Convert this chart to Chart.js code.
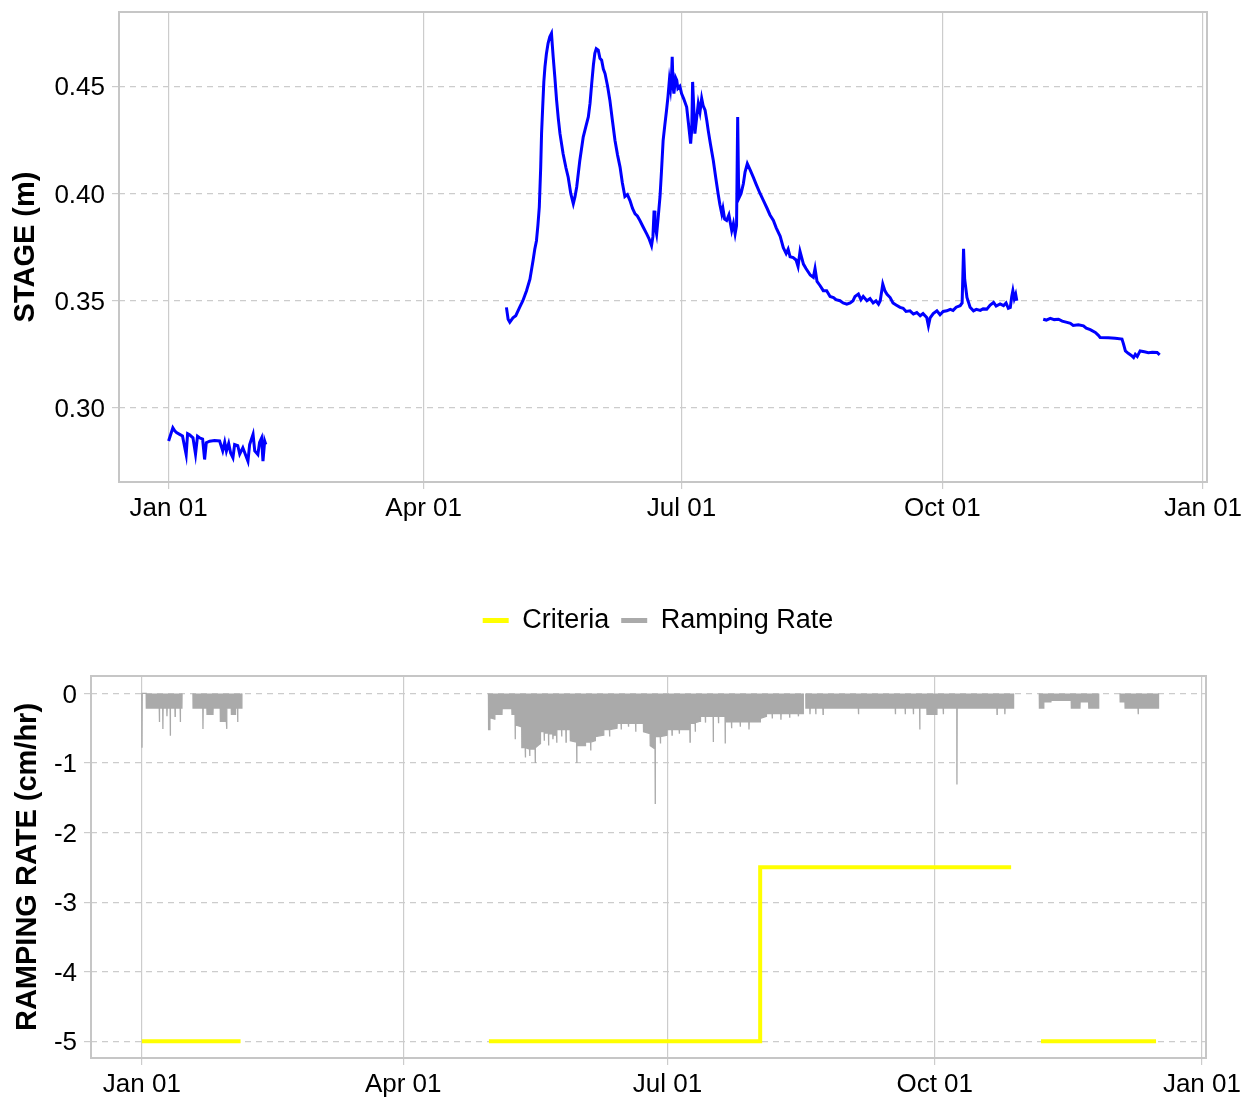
<!DOCTYPE html>
<html>
<head>
<meta charset="utf-8">
<title>Stage and ramping rate</title>
<script src="https://cdn.jsdelivr.net/npm/chart.js"></script>
<style>
  html, body { margin: 0; padding: 0; background: #fff; overflow: hidden; }
  canvas { position: absolute; left: 0; }
  #stageChart { top: 0; }
  #rampChart { top: 588px; }
</style>
</head>
<body>
<canvas id="stageChart" width="1251" height="545"></canvas>
<canvas id="rampChart" width="1251" height="510"></canvas>
<script>
// x axis = day of year (0 = Jan 01)
var tickDays = [0, 90, 181, 273, 365];
var tickLabels = ['Jan 01', 'Apr 01', 'Jul 01', 'Oct 01', 'Jan 01'];

var stageTicks = [0.30, 0.35, 0.40, 0.45];
var rampTicks = [0, -1, -2, -3, -4, -5];

// stage (m), winter piece
var janDays = [0, 1.5, 2.1, 2.8, 3.9, 4.9, 6.2, 6.7, 7.4, 8.6,
  9.5, 10.2, 10.9, 12.0, 12.7, 13.3, 14.5, 16.2, 18.0, 19.1,
  19.8, 20.4, 21.2, 21.9, 22.7, 23.3, 24.4, 25.1, 26.2, 27.2,
  28.0, 28.6, 29.8, 30.4, 31.5, 32.1, 32.8, 33.3, 33.9, 34.3];
var janStage = [.2846, .2908, .2895, .2885, .2877, .2870, .2783, .2880, .2875, .2861,
  .2785, .2868, .2861, .2855, .2760, .2838, .2845, .2848, .2846, .2800,
  .2840, .2799, .2835, .2790, .2768, .2830, .2825, .2785, .2815, .2780,
  .2752, .2830, .2877, .2800, .2783, .2840, .2860, .2752, .2846, .2830];

// stage (m), May - October
var summerDays = [119.2, 119.8, 120.4, 121.5, 122.5, 123.9, 125.0, 126.3, 127.5, 128.6,
  129.2, 129.8, 130.3, 130.8, 131.3, 131.6, 132.0, 132.4, 132.8, 133.3,
  133.9, 134.5, 135.1, 135.4, 135.7, 136.3, 136.9, 137.5, 138.1, 139.2,
  140.2, 141.0, 141.9, 142.8, 143.4, 144.0, 145.1, 146.3, 147.2, 148.1,
  148.7, 149.3, 149.9, 150.4, 150.9, 151.6, 152.2, 152.8, 153.4, 154.0,
  154.9, 155.7, 156.6, 157.5, 158.4, 159.3, 160.1, 161.0, 161.9, 162.8,
  163.7, 164.6, 165.4, 166.3, 167.4, 168.7, 169.5, 170.4, 170.9, 171.3,
  171.6, 172.2, 172.7, 173.4, 173.9, 174.5, 175.1, 175.7, 176.2, 176.7,
  177.1, 177.5, 177.7, 178.0, 178.3, 178.9, 179.3, 179.7, 180.4, 181.0,
  181.8, 182.8, 183.4, 184.2, 184.6, 184.9, 185.3, 185.7, 186.3, 186.9,
  187.5, 188.1, 188.6, 189.3, 189.9, 190.4, 191.2, 192.2, 193.1, 193.9,
  194.5, 195.2, 195.6, 196.2, 196.9, 197.7, 198.7, 199.3, 199.9, 200.4,
  200.8, 201.1, 201.4, 202.0, 202.8, 203.4, 204.2, 205.2, 206.3, 207.4,
  208.7, 209.9, 211.2, 212.2, 213.4, 214.4, 215.8, 216.9, 217.9, 218.6,
  219.3, 220.4, 221.4, 222.1, 222.8, 224.0, 224.9, 226.4, 227.5, 228.1,
  228.8, 229.9, 231.0, 232.2, 233.4, 234.6, 235.5, 236.9, 238.0, 239.3,
  240.5, 241.5, 242.2, 243.4, 244.3, 245.1, 246.4, 247.5, 248.6, 249.6,
  250.5, 251.1, 252.0, 252.8, 253.5, 254.6, 255.6, 256.7, 258.1, 259.2,
  260.2, 261.6, 262.8, 264.0, 265.2, 266.2, 267.5, 268.1, 268.7, 269.8,
  271.1, 272.2, 273.3, 274.6, 275.8, 276.8, 277.9, 279.3, 280.0, 280.5,
  280.9, 281.7, 282.8, 284.0, 285.0, 286.4, 287.4, 288.7, 289.9, 291.1,
  292.0, 293.4, 294.6, 295.5, 296.3, 297.0, 297.5, 297.9, 298.4, 298.9,
  299.3];
var summerStage = [.3469, .3414, .3400, .3420, .3430, .3470, .3500, .3547, .3600, .3687,
  .3740, .3780, .3850, .3936, .4123, .4280, .4403, .4520, .4590, .4650,
  .4700, .4730, .4746, .4690, .4637, .4540, .4435, .4350, .4279, .4185,
  .4120, .4076, .4000, .3952, .3985, .4030, .4154, .4263, .4310, .4357,
  .4420, .4513, .4600, .4653, .4675, .4668, .4630, .4621, .4580, .4559,
  .4500, .4435, .4340, .4248, .4180, .4123, .4050, .3986, .3995, .3967,
  .3930, .3905, .3895, .3874, .3845, .3812, .3790, .3757, .3800, .3920,
  .3850, .3810, .3880, .3986, .4100, .4248, .4320, .4388, .4450, .4528,
  .4490, .4560, .4637, .4500, .4466, .4540, .4528, .4490, .4500, .4466,
  .4440, .4403, .4330, .4232, .4300, .4520, .4400, .4279, .4350, .4419,
  .4380, .4443, .4410, .4388, .4340, .4294, .4230, .4154, .4070, .3999,
  .3950, .3905, .3930, .3880, .3874, .3900, .3827, .3860, .3812, .3850,
  .4357, .4050, .3983, .4000, .4045, .4100, .4139, .4110, .4076, .4040,
  .4000, .3967, .3930, .3900, .3874, .3840, .3800, .3747, .3720, .3740,
  .3705, .3701, .3690, .3660, .3730, .3671, .3650, .3620, .3609, .3650,
  .3590, .3570, .3547, .3547, .3520, .3515, .3505, .3500, .3490, .3484,
  .3490, .3500, .3520, .3531, .3505, .3520, .3500, .3510, .3490, .3500,
  .3484, .3500, .3578, .3545, .3530, .3515, .3490, .3480, .3469, .3465,
  .3450, .3453, .3438, .3445, .3430, .3440, .3422, .3383, .3420, .3440,
  .3453, .3435, .3450, .3453, .3460, .3455, .3470, .3477, .3490, .3742,
  .3600, .3515, .3470, .3453, .3460, .3455, .3462, .3461, .3480, .3492,
  .3475, .3485, .3477, .3490, .3465, .3469, .3520, .3547, .3510, .3530,
  .3500];

// stage (m), November - December
var lateDays = [308.6, 309.7, 311.1, 312.5, 314.0, 315.3, 317.0, 318.2, 319.2, 321.0,
  322.8, 323.8, 325.2, 327.0, 328.0, 328.7, 331.6, 334.0, 336.4, 336.9,
  337.6, 338.6, 339.7, 340.5, 341.1, 341.8, 342.8, 344.3, 345.7, 347.1,
  348.8, 349.7];
var lateStage = [.3414, .3410, .3418, .3412, .3414, .3405, .3399, .3395, .3385, .3388,
  .3383, .3372, .3365, .3352, .3340, .3329, .3327, .3325, .3321, .3300,
  .3266, .3255, .3245, .3235, .3250, .3240, .3266, .3262, .3258, .3260,
  .3259, .3248];

// ramping rate (cm/hr); null = no record
var ramp1Days = [0, 0.05, 0.12, 1.5, 1.55, 6.0, 6.05, 6.12, 7.2, 7.25,
  7.32, 8.6, 8.65, 8.72, 9.75, 9.8, 9.87, 11.4, 11.45, 11.52,
  13.2, 13.25, 13.32, 13.8, 13.85, 15.5, 17.6, 17.65, 21.0, 21.05,
  21.12, 22.4, 22.45, 24.5, 24.55, 27.0, 27.05, 29.1, 29.2, 29.3,
  30.8, 30.85, 32.2, 32.25, 32.95, 33.0, 33.07, 34.4, 34.45];
var ramp1Rate = [0, -0.78, 0, 0, -0.21, -0.21, -0.41, -0.21, -0.21, -0.51,
  -0.21, -0.21, -0.33, -0.21, -0.21, -0.61, -0.21, -0.21, -0.33, -0.21,
  -0.21, -0.41, -0.21, -0.21, 0, null, 0, -0.21, -0.21, -0.51,
  -0.21, -0.21, -0.30, -0.30, -0.21, -0.21, -0.40, -0.40, -0.51, -0.21,
  -0.21, -0.30, -0.30, -0.21, -0.21, -0.41, -0.21, -0.21, 0];

var ramp2Days = [119.35, 119.4, 119.8, 119.85, 121.5,
  121.55, 124.0, 124.05, 127.4, 127.45,
  128.5, 128.55, 128.62, 130.8, 130.85,
  132.0, 132.05, 132.12, 133.5, 133.55,
  133.62, 135.4, 135.45, 135.52, 137.2,
  137.25, 138.5, 138.55, 138.62, 140.0,
  140.05, 140.12, 141.5, 141.55, 141.62,
  142.8, 142.85, 142.92, 144.5, 144.55,
  144.62, 146.0, 146.05, 146.12, 147.5,
  147.55, 149.7, 149.75, 149.82, 152.7,
  152.75, 154.5, 154.55, 154.62, 156.1,
  156.15, 159.0, 159.05, 161.0, 161.05,
  161.12, 163.6, 163.65, 165.0, 165.05,
  165.12, 167.5, 167.55, 167.62, 170.0,
  170.05, 170.12, 172.7, 172.75, 175.0,
  175.05, 176.7, 176.75, 176.82, 178.5,
  178.55, 178.62, 180.8, 180.85, 182.5,
  182.55, 182.62, 185.0, 185.05, 185.12,
  188.7, 188.75, 188.82, 190.5, 190.55,
  190.62, 192.3, 192.35, 194.0, 194.05,
  194.12, 196.7, 196.75, 196.82, 198.5,
  198.55, 198.62, 200.8, 200.85, 200.92,
  203.0, 203.05, 203.12, 206.0, 206.05,
  206.12, 209.0, 209.05, 209.12, 212.9,
  212.95, 215.0, 215.05, 217.0, 217.05,
  217.12, 220.0, 220.05, 220.12, 223.0,
  223.05, 223.12, 226.0, 226.05, 226.12,
  227.7, 227.75, 228.2,
  228.6, 228.65, 230.0, 230.05, 230.12, 232.0, 232.05, 232.12, 234.5, 234.55,
  234.62, 246.7, 246.75, 246.82, 259.4, 259.45, 259.52, 262.8, 262.85, 262.92,
  265.6, 265.65, 265.72, 267.8, 267.85, 267.92, 270.3, 270.35, 273.7, 273.75,
  275.9, 275.95, 276.02, 280.6, 280.65, 280.72, 294.4, 294.45, 294.52, 297.1,
  297.15, 297.22, 300.1, 300.15];
var ramp2Rate = [0, -0.52, -0.52, -0.35, -0.37,
  -0.30, -0.30, -0.22, -0.22, -0.30,
  -0.30, -0.66, -0.45, -0.48, -0.78,
  -0.78, -0.92, -0.78, -0.80, -0.90,
  -0.80, -0.80, -1.00, -0.78, -0.72,
  -0.55, -0.55, -0.68, -0.57, -0.57,
  -0.75, -0.58, -0.58, -0.66, -0.60,
  -0.60, -0.71, -0.52, -0.52, -0.62,
  -0.52, -0.52, -0.70, -0.52, -0.52,
  -0.68, -0.70, -1.00, -0.75, -0.75,
  -0.70, -0.70, -0.82, -0.70, -0.68,
  -0.62, -0.60, -0.52, -0.52, -0.62,
  -0.52, -0.50, -0.43, -0.43, -0.52,
  -0.43, -0.43, -0.48, -0.43, -0.43,
  -0.55, -0.43, -0.43, -0.55, -0.58,
  -0.75, -0.80, -1.59, -0.62, -0.62,
  -0.72, -0.62, -0.60, -0.52, -0.52,
  -0.60, -0.52, -0.52, -0.58, -0.52,
  -0.52, -0.70, -0.43, -0.43, -0.55,
  -0.42, -0.40, -0.33, -0.33, -0.42,
  -0.33, -0.33, -0.70, -0.33, -0.33,
  -0.43, -0.33, -0.33, -0.72, -0.41,
  -0.41, -0.50, -0.41, -0.41, -0.48,
  -0.41, -0.41, -0.52, -0.41, -0.41,
  -0.36, -0.33, -0.29, -0.29, -0.36,
  -0.29, -0.29, -0.38, -0.29, -0.29,
  -0.35, -0.29, -0.29, -0.33, -0.29,
  -0.29, 0, null,
  0, -0.21, -0.21, -0.30, -0.21, -0.21, -0.30, -0.21, -0.21, -0.30,
  -0.21, -0.21, -0.30, -0.21, -0.21, -0.30, -0.21, -0.21, -0.30, -0.21,
  -0.21, -0.30, -0.21, -0.21, -0.52, -0.21, -0.21, -0.30, -0.30, -0.21,
  -0.21, -0.30, -0.21, -0.21, -1.31, -0.21, -0.21, -0.30, -0.21, -0.21,
  -0.30, -0.21, -0.21, 0];

var ramp3Days = [309.0, 309.05, 310.5, 310.55, 313.0, 313.05, 320.0, 320.05, 323.0, 323.05,
  326.0, 326.05, 329.4, 329.45, 333, 336.8, 336.85, 338.5, 338.55, 343.0,
  343.05, 343.12, 350.0, 350.05];
var ramp3Rate = [0, -0.21, -0.21, -0.12, -0.12, -0.10, -0.10, -0.21, -0.21, -0.12,
  -0.12, -0.21, -0.21, 0, null, 0, -0.12, -0.12, -0.21, -0.21,
  -0.30, -0.21, -0.21, 0];

// criteria (cm/hr)
var critDays = [0, 34, 77, 119.5, 212.9, 212.9, 299.3, 304, 309.6, 349.2];
var critRate = [-5, -5, null, -5, -5, -2.5, -2.5, null, -5, -5];

var fontFamily = "'Liberation Sans', Arial, sans-serif";
var gridGrey = '#cccccc';
var dash = [6, 5];

function toPoints(days, vals) {
  return days.map(function (d, i) { return { x: d, y: vals[i] }; });
}

function dayLabel(v) {
  var i = tickDays.indexOf(v);
  return i >= 0 ? tickLabels[i] : '';
}

// grey frame round the plot area
var panelBorder = {
  id: 'panelBorder',
  afterDraw: function (chart) {
    var a = chart.chartArea, ctx = chart.ctx;
    ctx.save();
    ctx.strokeStyle = '#c6c6c6';
    ctx.lineWidth = 2;
    ctx.strokeRect(a.left, a.top, a.right - a.left, a.bottom - a.top);
    ctx.restore();
  }
};

function xScale(height) {
  return {
    type: 'linear', min: -17.5, max: 366.4, bounds: 'data',
    grid: { color: gridGrey, lineWidth: 1.2, tickLength: 7, tickColor: gridGrey },
    border: { display: false },
    ticks: { font: { family: fontFamily, size: 26 }, color: '#000', padding: 4,
      maxRotation: 0, autoSkip: false, callback: dayLabel },
    afterBuildTicks: function (s) { s.ticks = tickDays.map(function (v) { return { value: v }; }); },
    afterFit: function (s) { s.height = height; s.paddingLeft = 0; s.paddingRight = 0; }
  };
}

function yScale(min, max, ticks, fmt, title, width, titlePad) {
  return {
    min: min, max: max, bounds: 'data',
    grid: { color: gridGrey, lineWidth: 1.2, tickLength: 7, tickColor: gridGrey, tickBorderDash: dash },
    border: { display: false, dash: dash },
    ticks: { font: { family: fontFamily, size: 26 }, color: '#000', padding: 7, labelOffset: 2, callback: fmt },
    title: { display: true, text: title, color: '#000',
      font: { family: fontFamily, size: 29, weight: 'bold' }, padding: { top: titlePad, bottom: 0 } },
    afterBuildTicks: function (s) { s.ticks = ticks.map(function (v) { return { value: v }; }); },
    afterFit: function (s) { s.width = width; s.paddingTop = 0; s.paddingBottom = 0; }
  };
}

var stagePoints = toPoints(janDays, janStage)
  .concat([{ x: 77, y: null }], toPoints(summerDays, summerStage))
  .concat([{ x: 304, y: null }], toPoints(lateDays, lateStage));

var rampPoints = toPoints(ramp1Days, ramp1Rate)
  .concat([{ x: 77, y: null }], toPoints(ramp2Days, ramp2Rate))
  .concat([{ x: 305, y: null }], toPoints(ramp3Days, ramp3Rate));

new Chart(document.getElementById('stageChart'), {
  type: 'line',
  data: {
    datasets: [{
      label: 'Stage',
      data: stagePoints,
      borderColor: '#0000ff',
      borderWidth: 3,
      pointRadius: 0,
      tension: 0,
      spanGaps: false,
      fill: false
    }]
  },
  options: {
    responsive: false,
    animation: false,
    layout: { padding: { top: 12, right: 44, left: 0, bottom: 0 } },
    plugins: { legend: { display: false }, tooltip: { enabled: false } },
    scales: {
      x: xScale(63),
      y: yScale(0.2655, 0.4846, stageTicks, function (v) { return v.toFixed(2); }, 'STAGE (m)', 119, 9)
    }
  },
  plugins: [panelBorder]
});

// room between legend and panel, and legend centred like the original
var legendGap = {
  id: 'legendGap',
  beforeInit: function (chart) {
    var fit = chart.legend.fit;
    chart.legend.fit = function () { fit.call(this); this.height += 32; };
  },
  afterLayout: function (chart) {
    chart.legend.left += 55;
    chart.legend.right += 55;
  }
};

new Chart(document.getElementById('rampChart'), {
  type: 'line',
  data: {
    datasets: [{
      label: 'Criteria',
      data: toPoints(critDays, critRate),
      borderColor: '#ffff00',
      backgroundColor: '#ffff00',
      borderWidth: 4,
      pointRadius: 0,
      tension: 0,
      spanGaps: false,
      fill: false
    }, {
      label: 'Ramping Rate',
      data: rampPoints,
      borderColor: '#aaaaaa',
      backgroundColor: '#aaaaaa',
      borderWidth: 1.3,
      pointRadius: 0,
      tension: 0,
      spanGaps: false,
      fill: 'origin'
    }]
  },
  options: {
    responsive: false,
    animation: false,
    layout: { padding: { top: 7, right: 45, left: 0, bottom: 0 } },
    plugins: {
      tooltip: { enabled: false },
      legend: {
        position: 'top',
        align: 'center',
        labels: {
          font: { family: fontFamily, size: 27 },
          color: '#000',
          boxWidth: 26,
          boxHeight: 5,
          padding: 12,
          generateLabels: function (chart) {
            return chart.data.datasets.map(function (d, i) {
              return { text: d.label, fillStyle: d.borderColor, strokeStyle: d.borderColor,
                lineWidth: 0, hidden: false, datasetIndex: i };
            });
          }
        }
      }
    },
    scales: {
      x: xScale(40),
      y: yScale(-5.24, 0.25, rampTicks, function (v) { return String(v); }, 'RAMPING RATE (cm/hr)', 91, 11)
    }
  },
  plugins: [panelBorder, legendGap]
});
</script>
</body>
</html>
